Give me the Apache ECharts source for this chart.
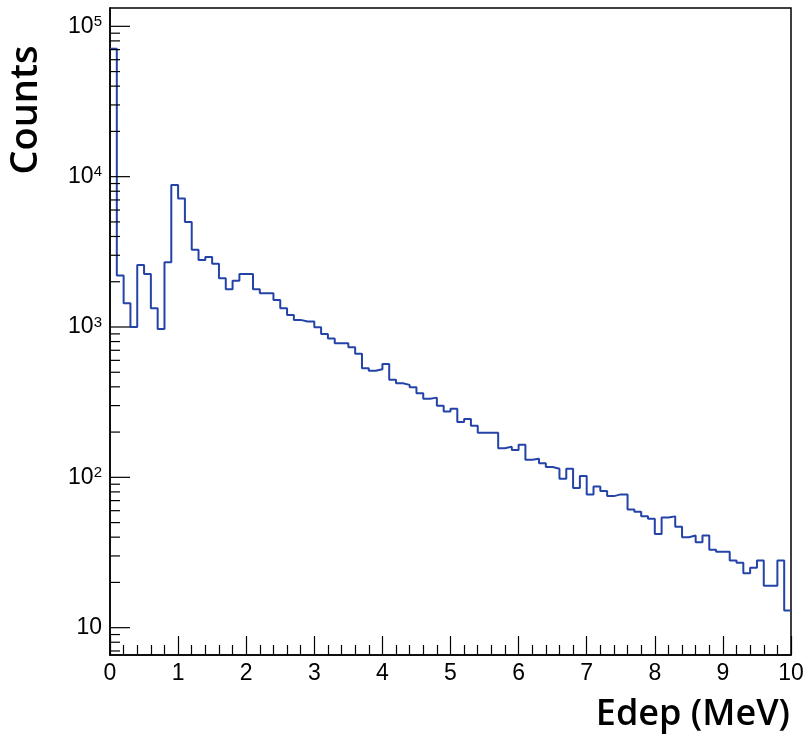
<!DOCTYPE html>
<html><head><meta charset="utf-8">
<script src="https://cdn.jsdelivr.net/npm/echarts@6/dist/echarts.min.js"></script>
<style>html,body{margin:0;padding:0;background:#fff}#c{width:807px;height:738px}</style>
</head><body><div id="c"></div>
<script>
// Histogram: 100 bins of 0.1 MeV from 0 to 10 MeV
const binWidth = 0.1;
const xMin = 0, xMax = 10;
const yMin = 6.58, yMax = 132400;
const counts = [
  70800, 2200, 1440, 1000, 2580, 2255, 1335, 970, 2700, 8810,
  7150, 5000, 3260, 2790, 2925, 2630, 2113, 1786, 2028, 2255,
  2255, 1786, 1679, 1679, 1514, 1334, 1204, 1115, 1087, 1087,
  998, 900, 838, 780, 780, 734, 663, 532, 511, 524,
  568, 445, 423, 412, 398, 363, 333, 339, 299, 274,
  286, 233, 244, 220, 198, 198, 198, 156, 160, 152,
  165, 131, 133, 124, 117, 114, 98, 114, 85, 102,
  77, 87, 81, 75, 77, 77, 61, 59, 55, 53,
  42, 54, 55, 47, 40, 41, 37, 41, 33, 32,
  32, 28, 27, 23, 25, 28, 19, 19, 28, 13
];
const yMajorTicks = [10, 100, 1000, 10000, 100000];
const yMinorTicks = [7, 8, 9,
  20, 30, 40, 50, 60, 70, 80, 90,
  200, 300, 400, 500, 600, 700, 800, 900,
  2000, 3000, 4000, 5000, 6000, 7000, 8000, 9000,
  20000, 30000, 40000, 50000, 60000, 70000, 80000, 90000];
const xTitle = 'Edep (MeV)';
const yTitle = 'Counts';

const stepData = counts.map((c, i) => [i * binWidth, c]);
stepData.push([xMax, counts[counts.length - 1]]);

const tickData = yMajorTicks.map(v => [xMin, v, 1]).concat(yMinorTicks.map(v => [xMin, v, 0]));

const chart = echarts.init(document.getElementById('c'), null, {renderer: 'canvas'});
const FONT = 'Liberation Sans';
chart.setOption({
  animation: false,
  backgroundColor: '#fff',
  grid: {left: 110, right: 16, top: 8, bottom: 83, show: true, borderColor: '#000', borderWidth: 1.5, containLabel: false},
  xAxis: {
    type: 'value', min: xMin, max: xMax, interval: 1,
    axisLine: {show: true, onZero: false, lineStyle: {color: '#000', width: 1.5}},
    axisTick: {show: true, inside: true, length: 19, lineStyle: {color: '#000', width: 1.2}},
    minorTick: {show: true, splitNumber: 5, length: 10, lineStyle: {color: '#000', width: 1.2}},
    splitLine: {show: false},
    axisLabel: {color: '#000', fontSize: 23, fontFamily: FONT, margin: 7, showMinLabel: true, showMaxLabel: true}
  },
  yAxis: {
    type: 'log', logBase: 10, min: yMin, max: yMax,
    axisLine: {show: true, onZero: false, lineStyle: {color: '#000', width: 1.5}},
    axisTick: {show: false},
    splitLine: {show: false},
    axisLabel: {
      color: '#000', margin: 8, showMinLabel: false, showMaxLabel: false,
      formatter: function (v) {
        const l = Math.log10(v), e = Math.round(l);
        if (Math.abs(l - e) > 1e-6) return '';
        return e === 1 ? '{a|10}' : '{a|10}{b|' + e + '}';
      },
      rich: {
        a: {fontSize: 23, fontFamily: FONT, color: '#000', lineHeight: 24},
        b: {fontSize: 15, fontFamily: FONT, color: '#000', verticalAlign: 'top', lineHeight: 14}
      }
    }
  },
  graphic: [
    {type: 'text', right: 17, bottom: 5, style: {text: xTitle, font: '600 36px "Open Sans"', fill: '#000'}},
    {type: 'text', x: 26, y: 110, rotation: Math.PI / 2,
     style: {text: yTitle, font: '600 38px "Open Sans"', fill: '#000', textAlign: 'center', textVerticalAlign: 'middle'}}
  ],
  series: [
    {
      type: 'line', data: stepData, step: 'end', showSymbol: false, symbol: 'none',
      lineStyle: {color: '#2443a8', width: 2}, clip: true, z: 3
    },
    {
      type: 'custom', data: tickData, clip: false, z: 4,
      renderItem: function (params, api) {
        const p = api.coord([api.value(0), api.value(1)]);
        const len = api.value(2) ? 20 : 10;
        return {type: 'line', shape: {x1: p[0], y1: p[1], x2: p[0] + len, y2: p[1]},
                style: {stroke: '#000', lineWidth: 1.2}};
      }
    }
  ]
});
</script></body></html>
